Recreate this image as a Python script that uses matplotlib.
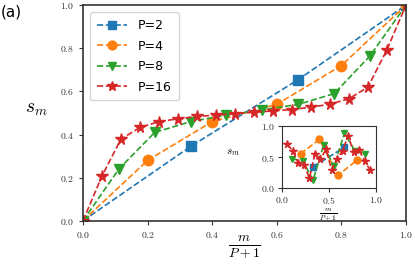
import numpy as np
import matplotlib
matplotlib.use("Agg")
import matplotlib.pyplot as plt
from matplotlib.ticker import FuncFormatter

plt.rcParams['mathtext.fontset'] = 'cm'

labels = ["P=2", "P=4", "P=8", "P=16"]
P_values = [2, 4, 8, 16]
markers = ['s', 'o', 'v', '*']
colors = ['#1f77b4', '#ff7f0e', '#2ca02c', '#d62728']

main_s = [
    [0.0, 0.345, 0.655, 1.0],
    [0.0, 0.28, 0.46, 0.54, 0.72, 1.0],
    [0.0, 0.24, 0.41, 0.46, 0.49, 0.515, 0.54, 0.59, 0.765, 1.0],
    [0.0, 0.208, 0.379, 0.433, 0.46, 0.473, 0.484, 0.49, 0.497,
     0.503, 0.51, 0.516, 0.527, 0.541, 0.566, 0.62, 0.793, 1.0],
]

inset_s = [
    [0.345, 0.655],
    [0.55, 0.78, 0.21, 0.45],
    [0.47, 0.44, 0.13, 0.69, 0.35, 0.88, 0.60, 0.54],
    [0.70, 0.60, 0.40, 0.38, 0.16, 0.55, 0.47, 0.62, 0.30, 0.47,
     0.60, 0.84, 0.58, 0.61, 0.43, 0.29],
]

ticks_main = [0.0, 0.2, 0.4, 0.6, 0.8, 1.0]
ticks_inset = [0.0, 0.5, 1.0]

fig = plt.figure(figsize=(4.15, 2.77), dpi=100)
ax = fig.add_axes([0.2, 0.203, 0.778, 0.778])

msizes = [7, 7.5, 7.5, 8.5]
for P, s, lab, mk, c, ms in zip(P_values, main_s, labels, markers, colors, msizes):
    x = np.arange(P + 2) / (P + 1)
    ax.plot(x, s, linestyle='--', marker=mk, color=c, label=lab,
            markersize=ms, linewidth=1.2)

ax.set_xlim(0, 1)
ax.set_ylim(0, 1)
ax.set_xticks(ticks_main)
ax.set_yticks(ticks_main)
fmt = FuncFormatter(lambda v, p: f'${v:.1f}$')
ax.xaxis.set_major_formatter(fmt)
ax.yaxis.set_major_formatter(fmt)
ax.tick_params(labelsize=7, length=3, colors='#333333')
for sp in ax.spines.values():
    sp.set_color('#333333')
    sp.set_linewidth(1.2)

leg = ax.legend(loc='upper left', fontsize=9, handlelength=2.4,
                borderpad=0.55, labelspacing=0.6, handletextpad=0.9,
                markerscale=0.85, bbox_to_anchor=(0.0, 1.0),
                borderaxespad=0.55)

fig.text(0.087, 0.61, r'$s_m$', fontsize=14, ha='center', va='center')
fig.text(0.59, 0.108, r'$\frac{m}{P+1}$', fontsize=14, ha='center', va='center')
fig.text(0.003, 0.955, '(a)', fontsize=11, ha='left', va='center')

axi = fig.add_axes([0.679, 0.32, 0.2265, 0.2264])
for P, s, mk, c in zip(P_values, inset_s, markers, colors):
    x = np.arange(1, P + 1) / (P + 1)
    axi.plot(x, s, linestyle='--', marker=mk, color=c,
             markersize=5 if mk != '*' else 5.5, linewidth=1.2)
axi.set_xlim(0, 1)
axi.set_ylim(0, 1)
axi.set_xticks(ticks_inset)
axi.set_yticks(ticks_inset)
axi.xaxis.set_major_formatter(fmt)
axi.yaxis.set_major_formatter(fmt)
axi.tick_params(labelsize=7, length=3, colors='#333333', pad=2)
for sp in axi.spines.values():
    sp.set_color('#333333')
fig.text(0.561, 0.451, r'$s_m$', fontsize=8, ha='center', va='center')
fig.text(0.79, 0.226, r'$\frac{m}{P+1}$', fontsize=7.5, ha='center', va='center')

fig.savefig('out.png', dpi=100)
